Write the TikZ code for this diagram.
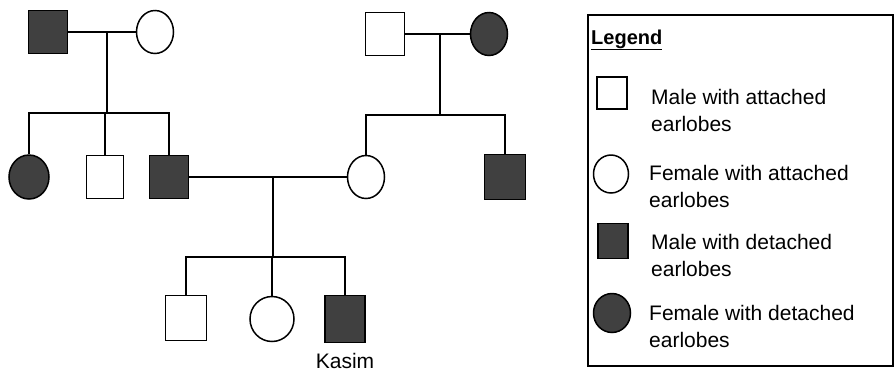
\documentclass[tikz,border=0pt]{standalone}
\usepackage{fontspec}
\setmainfont{Liberation Sans}
\usetikzlibrary{positioning, shapes.geometric}

\begin{document}
\begin{tikzpicture}[
    x=1pt, y=-1pt,
    male/.style={rectangle, draw, line width=1.5pt, minimum width=39pt, minimum height=43pt, inner sep=0pt},
    female/.style={ellipse, draw, line width=1.5pt, minimum width=37pt, minimum height=43pt, inner sep=0pt},
    affected/.style={fill=black!75},
    line/.style={line width=1.5pt},
    legendtext/.style={anchor=west, align=left, inner sep=0pt, font=\fontsize{21}{27}\selectfont},
]
    \useasboundingbox (0,0) rectangle (895,376);

    % Generation I
    \node[male, affected] (gfa) at (48,32) {};
    \node[female] (gma) at (155,32) {};
    \node[male] (gfb) at (385,34) {};
    \node[female, affected] (gmb) at (489,34) {};

    % Generation II
    \node[female, affected, minimum width=40pt, minimum height=44pt] (aunt) at (29,177) {};
    \node[male, minimum width=37pt] (uncle) at (105,177) {};
    \node[male, affected] (father) at (169,177) {};
    \node[female] (mother) at (366,177) {};
    \node[male, affected, minimum width=41pt, minimum height=45pt] (muncle) at (505,177) {};

    % Generation III
    \node[male, minimum width=41pt, minimum height=45pt] (bro) at (186,318) {};
    \node[female, minimum width=44pt, minimum height=45pt] (sis) at (272,319) {};
    \node[male, affected, minimum width=40pt, minimum height=47pt] (kasim) at (345,319) {};
    \node[below=10pt of kasim, inner sep=0pt, font=\fontsize{21}{25}\selectfont] (kname) {Kasim};

    % Couples and sibling bars
    \coordinate (ua) at (107,32);
    \coordinate (sa) at (107,113);
    \coordinate (ub) at (440,34);
    \coordinate (sb) at (440,115);
    \coordinate (uc) at (273,177);
    \coordinate (sc) at (273,257);

    \draw[line] (gfa) -- (gma);
    \draw[line] (ua) -- (sa);
    \draw[line] (aunt.north) |- (father.north |- sa) -- (father.north);
    \draw[line] (uncle.north |- sa) -- (uncle.north);

    \draw[line] (gfb) -- (gmb);
    \draw[line] (ub) -- (sb);
    \draw[line] (mother.north) |- (muncle.north |- sb) -- (muncle.north);

    \draw[line] (father) -- (mother);
    \draw[line] (uc) -- (sc);
    \draw[line] (bro.north) |- (kasim.north |- sc) -- (kasim.north);
    \draw[line] (sis.north |- sc) -- (sis.north);

    % Legend
    \draw[line] (588,15) rectangle (893,366);
    \node[anchor=base west, inner sep=0pt, font=\bfseries\fontsize{20}{24}\selectfont] (legtitle) at (591,44) {\underline{Legend}};
    \node[male, minimum width=30pt, minimum height=32pt] (kma) at (612,93) {};
    \node[legendtext] (tma) at (651,110) {Male with attached\\earlobes};
    \node[female, minimum width=35pt, minimum height=38pt] (kfa) at (611,174) {};
    \node[legendtext] (tfa) at (649,186) {Female with attached\\earlobes};
    \node[male, affected, minimum width=30pt, minimum height=35pt] (kmd) at (613,241) {};
    \node[legendtext] (tmd) at (651,255) {Male with detached\\earlobes};
    \node[female, affected, minimum width=37pt, minimum height=39pt] (kfd) at (612,313) {};
    \node[legendtext] (tfd) at (649,326) {Female with detached\\earlobes};
\end{tikzpicture}
\end{document}
